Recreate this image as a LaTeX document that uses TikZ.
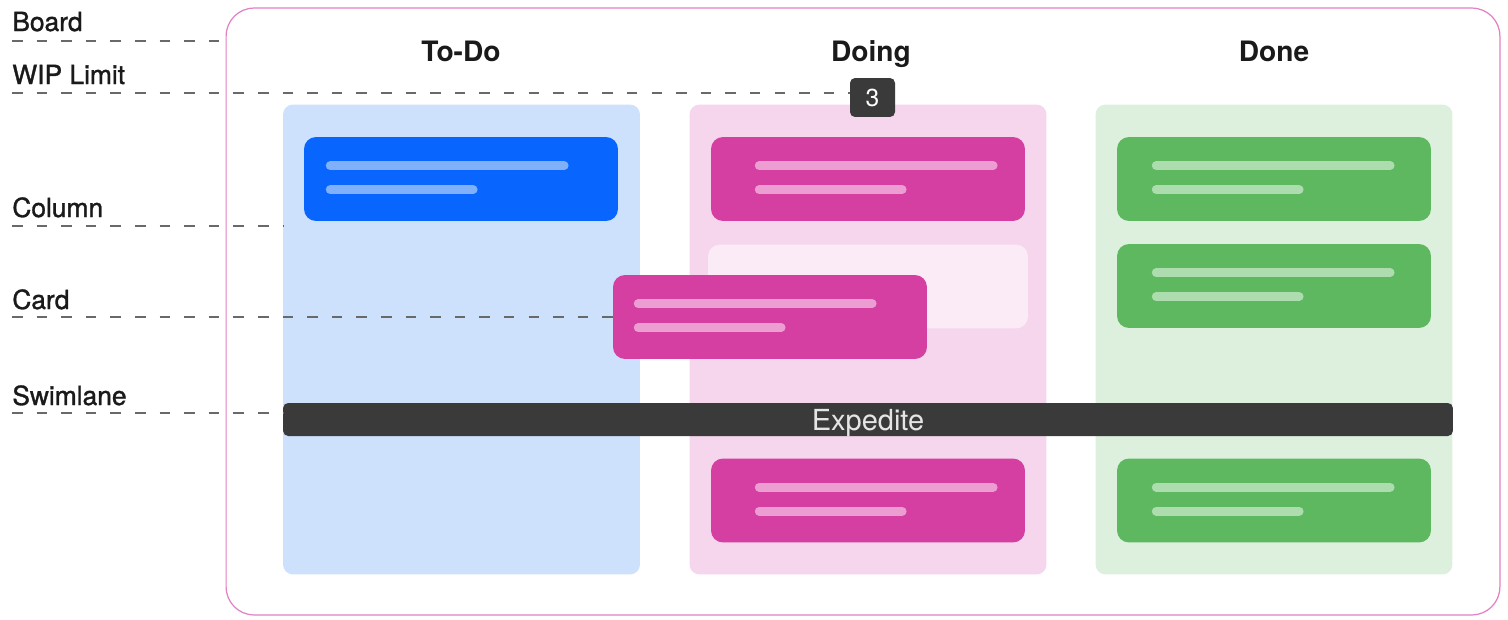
\documentclass[tikz,border=0pt]{standalone}
\usepackage{fontspec}
\setmainfont{TeX Gyre Heros}
\newfontfamily\labelfont{TeX Gyre Heros}[FakeBold=1.2]
\usetikzlibrary{calc}

\definecolor{boardpink}{RGB}{228,128,196}
\definecolor{todocol}{RGB}{205,224,252}
\definecolor{todocard}{RGB}{8,102,255}
\definecolor{todoline}{RGB}{128,176,250}
\definecolor{doingcol}{RGB}{245,214,236}
\definecolor{doingcard}{RGB}{212,63,161}
\definecolor{doingline}{RGB}{236,157,209}
\definecolor{doingslot}{RGB}{251,235,246}
\definecolor{donecol}{RGB}{221,240,222}
\definecolor{donecard}{RGB}{93,184,96}
\definecolor{doneline}{RGB}{173,220,175}
\definecolor{darkbar}{RGB}{58,58,58}
\definecolor{dashgray}{RGB}{105,105,105}
\definecolor{inktext}{RGB}{26,26,26}

\tikzset{
  col/.style={rounded corners=0.2cm, minimum width=7.14cm, minimum height=9.4cm, inner sep=0pt},
  card/.style={rounded corners=0.24cm, minimum width=6.28cm, minimum height=1.68cm, inner sep=0pt},
  lbl/.style={anchor=base west, inner sep=0pt, text=inktext, font=\labelfont\fontsize{15}{18}\selectfont},
  head/.style={anchor=base, inner sep=0pt, text=inktext, font=\bfseries\fontsize{16}{19}\selectfont},
  leader/.style={draw=dashgray, line width=0.85pt, dash pattern=on 6pt off 8pt},
  bar/.style={line width=5pt, line cap=round},
}

% two text bars on a card: node, left offset, colour
\newcommand{\cardlines}[3]{%
  \draw[bar,#3] ($(#1.north west)+(#2+4.5,29)$) -- +(234,0);
  \draw[bar,#3] ($(#1.north west)+(#2+4.5,53)$) -- +(143,0);
}

\begin{document}
\begin{tikzpicture}[x=0.02cm,y=-0.02cm]
\fill[white] (0,0) rectangle (1508,619);
\useasboundingbox (0,0) rectangle (1508,619);

% board
\node[draw=boardpink, line width=0.7pt, rounded corners=0.56cm,
      minimum width=25.48cm, minimum height=12.14cm, inner sep=0pt] (board) at (863,311.5) {};

% columns
\node[col, fill=todocol] (todo) at (461.5,339.5) {};
\node[col, fill=doingcol] (doing) at (868,339.5) {};
\node[col, fill=donecol] (done) at (1274,339.5) {};

\node[head] (hTodo) at (461,61) {To-Do};
\node[head] (hDoing) at (871,61) {Doing};
\node[head] (hDone) at (1274,61) {Done};

% wip limit
\node[fill=darkbar, rounded corners=0.1cm, minimum width=0.9cm, minimum height=0.78cm,
      inner sep=0pt, text=white, font=\fontsize{14}{16}\selectfont] (wip) at (872.5,97.5) {3};

% cards
\node[card, fill=todocard] (todo1) at (461,179) {};
\cardlines{todo1}{22}{todoline}

\node[card, fill=doingcard] (doing1) at (868,179) {};
\cardlines{doing1}{44}{doingline}
\node[card, fill=doingslot, minimum width=6.4cm] (slot) at (868,286.5) {};
\node[card, fill=doingcard] (doing3) at (868,500.5) {};
\cardlines{doing3}{44}{doingline}

\node[card, fill=donecard] (done1) at (1274,179) {};
\cardlines{done1}{35}{doneline}
\node[card, fill=donecard] (done2) at (1274,286) {};
\cardlines{done2}{35}{doneline}
\node[card, fill=donecard] (done3) at (1274,500.5) {};
\cardlines{done3}{35}{doneline}

% swimlane
\node[fill=darkbar, rounded corners=0.1cm, minimum width=23.4cm, minimum height=0.66cm,
      inner sep=0pt, text depth=0pt, text=white!90!black, font=\fontsize{16.5}{19}\selectfont] (lane) at (868,419.5) {Expedite};

% card being moved
\node[card, fill=doingcard] (drag) at (770,317) {};
\cardlines{drag}{21}{doingline}

% labels on the left
\node[lbl] (lBoard) at (12,31) {Board};
\node[lbl] (lWip) at (12,84) {WIP Limit};
\node[lbl] (lColumn) at (12,217) {Column};
\node[lbl] (lCard) at (12,309) {Card};
\node[lbl] (lLane) at (12,405) {Swimlane};

\coordinate (sBoard) at (12,41);
\coordinate (sWip) at (12,93);
\coordinate (sColumn) at (12,226);
\coordinate (sCard) at (12,317);
\coordinate (sLane) at (12,413);

\draw[leader] (sBoard) -- (sBoard -| board.west);
\draw[leader] (sWip) -- (sWip -| wip.west);
\draw[leader] (sColumn) -- (sColumn -| todo.west);
\draw[leader] (sCard) -- (sCard -| drag.west);
\draw[leader] (sLane) -- (sLane -| lane.west);

\end{tikzpicture}
\end{document}
